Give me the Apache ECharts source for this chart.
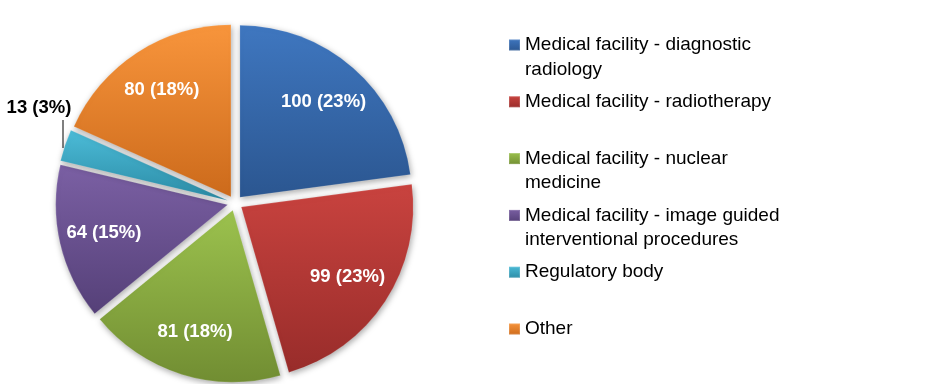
<!DOCTYPE html>
<html>
<head>
<meta charset="utf-8">
<script src="https://cdn.jsdelivr.net/npm/echarts@6/dist/echarts.min.js"></script>
<style>
html,body{margin:0;padding:0;background:#fff;}
#chart{width:933px;height:384px;}
</style>
</head>
<body>
<div id="chart"></div>
<script>
// ---- data ----
const categories = [
  'Medical facility - diagnostic radiology',
  'Medical facility - radiotherapy',
  'Medical facility - nuclear medicine',
  'Medical facility - image guided interventional procedures',
  'Regulatory body',
  'Other'
];
const legendText = [
  'Medical facility - diagnostic\nradiology',
  'Medical facility - radiotherapy',
  'Medical facility - nuclear\nmedicine',
  'Medical facility - image guided\ninterventional procedures',
  'Regulatory body',
  'Other'
];
const values = [100, 99, 81, 64, 13, 80];
const pctLabels = ['23%', '23%', '18%', '15%', '3%', '18%'];
const outsideLabelIndex = 4;

// ---- styling ----
const colorPairs = [
  ['#3f77c0', '#2b5690'],
  ['#c9433f', '#982c2a'],
  ['#9cc24e', '#718d32'],
  ['#7b60a4', '#554078'],
  ['#4cbcd8', '#2b8ba5'],
  ['#f8953c', '#cc6a1b']
];
function grad(p) {
  return new echarts.graphic.LinearGradient(0, 0, 0, 1, [
    {offset: 0, color: p[0]}, {offset: 1, color: p[1]}
  ]);
}
const CENTER = [235, 203];
const R = 172;
const OFFSET = 7.5;
const FONT = 'Liberation Sans, Arial, sans-serif';
function labelText(p) { return p.value + ' (' + pctLabels[p.dataIndex] + ')'; }

const mainData = categories.map((name, i) => ({
  name: name,
  value: values[i],
  selected: true,
  itemStyle: {color: grad(colorPairs[i])}
}));
const insideLabelData = categories.map((name, i) => ({
  name: name,
  value: values[i],
  selected: true,
  label: {show: i !== outsideLabelIndex}
}));
const outsideLabelData = categories.map((name, i) => ({
  name: name,
  value: values[i],
  label: {show: i === outsideLabelIndex},
  labelLine: {show: i === outsideLabelIndex}
}));

const chart = echarts.init(document.getElementById('chart'), null, {renderer: 'canvas'});
chart.setOption({
  animation: false,
  backgroundColor: '#ffffff',
  legend: {
    orient: 'vertical',
    left: 508,
    top: 8.25,
    padding: 0,
    itemWidth: 11,
    itemHeight: 11,
    itemGap: -16.7,
    icon: 'rect',
    selectedMode: false,
    data: categories,
    formatter: function (name) {
      const t = legendText[categories.indexOf(name)];
      return '\n' + t + (t.indexOf('\n') < 0 ? '\n' : '');
    },
    textStyle: {
      fontFamily: FONT,
      fontSize: 19,
      lineHeight: 24.5,
      color: '#000'
    }
  },
  series: [
    {
      type: 'pie',
      center: CENTER,
      radius: R,
      startAngle: 90,
      clockwise: true,
      selectedMode: 'multiple',
      selectedOffset: OFFSET,
      emphasis: {disabled: true},
      itemStyle: {
        shadowBlur: 6,
        shadowColor: 'rgba(0,0,0,0.35)',
        shadowOffsetX: 1,
        shadowOffsetY: 2,
        borderColor: 'rgba(255,255,255,0.15)',
        borderWidth: 1
      },
      label: {show: false},
      labelLine: {show: false},
      data: mainData
    },
    {
      type: 'pie',
      center: CENTER,
      radius: [76, R],
      startAngle: 90,
      clockwise: true,
      silent: true,
      selectedMode: 'multiple',
      selectedOffset: OFFSET,
      avoidLabelOverlap: false,
      itemStyle: {color: 'rgba(0,0,0,0)'},
      label: {
        position: 'inside',
        formatter: labelText,
        fontFamily: FONT,
        fontWeight: 'bold',
        fontSize: 18.5,
        color: '#fff'
      },
      labelLine: {show: false},
      data: insideLabelData
    },
    {
      type: 'pie',
      center: CENTER,
      radius: R,
      startAngle: 90,
      clockwise: true,
      silent: true,
      avoidLabelOverlap: false,
      itemStyle: {color: 'rgba(0,0,0,0)'},
      label: {
        position: 'outside',
        formatter: labelText,
        fontFamily: FONT,
        fontWeight: 'bold',
        fontSize: 18.5,
        color: '#000'
      },
      labelLine: {
        length: 8,
        length2: 4,
        lineStyle: {color: '#000', width: 1}
      },
      labelLayout: function (p) {
        if (p.dataIndex === outsideLabelIndex) {
          return {
            x: 39, y: 108, align: 'center', verticalAlign: 'middle',
            labelLinePoints: [[63, 148], [63, 120], [63, 120]]
          };
        }
      },
      data: outsideLabelData
    }
  ]
});
</script>
</body>
</html>
